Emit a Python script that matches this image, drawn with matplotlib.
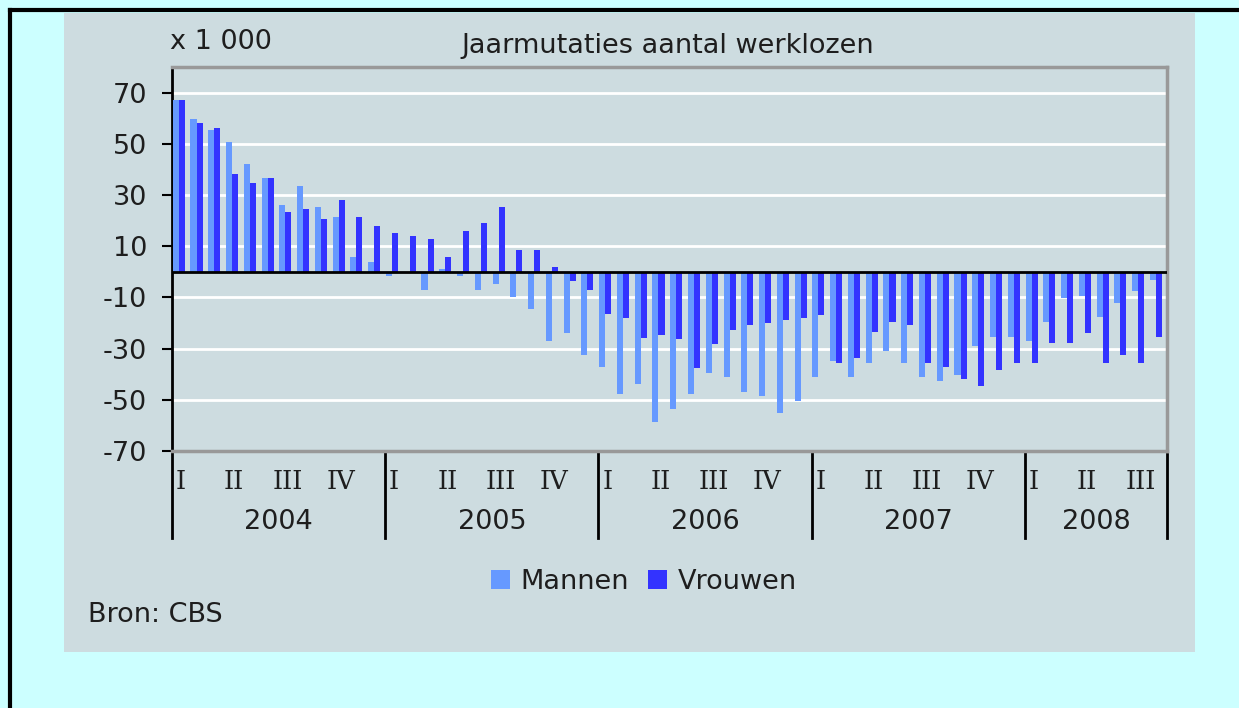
import matplotlib
matplotlib.use("Agg")
import matplotlib.pyplot as plt
from matplotlib.patches import Rectangle
from matplotlib.lines import Line2D
import numpy as np

# ---- data (x 1 000, monthly, Jan 2004 - Aug 2008) ----
mannen = [67, 59.7, 55.2, 50.6, 42.2, 36.6, 26.2, 33.7, 25.3, 21.6, 5.8, 3.8,
          -1.7, -0.5, -7.2, 1.0, -1.7, -7.2, -4.6, -10.0, -14.6, -26.9, -24.1, -32.5,
          -37.3, -47.6, -44.0, -58.8, -53.4, -47.9, -39.5, -41.2, -47.0, -48.6, -55.1, -50.6,
          -40.9, -34.7, -40.9, -35.5, -30.8, -35.5, -40.9, -42.8, -40.3, -28.9, -25.4, -25.4,
          -27.1, -19.6, -10.3, -9.3, -17.7, -12.1, -7.6, -3.1]
vrouwen = [67, 58.0, 56.1, 38.3, 34.6, 36.6, 23.3, 24.4, 20.7, 28.2, 21.6, 17.9,
           15.0, 14.0, 13.0, 5.6, 16.0, 18.9, 25.4, 8.5, 8.5, 2.0, -3.5, -7.2,
           -16.3, -18.2, -25.7, -24.6, -26.3, -37.5, -28.3, -22.7, -20.9, -19.9, -19.0, -18.2,
           -17.0, -35.5, -33.5, -23.5, -19.6, -20.6, -35.5, -37.3, -41.9, -44.5, -38.3, -35.5,
           -35.5, -28.0, -28.0, -24.1, -35.5, -32.5, -35.5, -25.4]
years = ["2004", "2005", "2006", "2007", "2008"]
months_per_year = [12, 12, 12, 12, 8]
quarters = ["I", "II", "III", "IV"]
yticks = [70, 50, 30, 10, -10, -30, -50, -70]
series_names = ["Mannen", "Vrouwen"]
colors = ["#6699ff", "#3333ff"]

FS = 19.5
TXT = "#1e1e1e"
panel = "#cddce0"

fig = plt.figure(figsize=(12.39, 7.08), dpi=100, facecolor="#ccffff")
W, H = 1239, 708

def fx(px):
    return px / W

def fy(py):
    return 1 - py / H

# panel
fig.patches.append(Rectangle((fx(64), fy(652)), fx(1195) - fx(64), fy(13) - fy(652),
                             transform=fig.transFigure, facecolor=panel, edgecolor="none", zorder=-5))
# outer black border (top + left)
fig.lines.append(Line2D([fx(10), 1], [fy(10), fy(10)], transform=fig.transFigure, color="black", lw=3))
fig.lines.append(Line2D([fx(10), fx(10)], [fy(10), 0], transform=fig.transFigure, color="black", lw=3))

ax = fig.add_axes([fx(172), fy(451), fx(1167) - fx(172), fy(67) - fy(451)])
ax.set_facecolor(panel)

n = len(mannen)
x = np.arange(n)
bw = 0.34
ax.bar(x + 0.04, mannen, width=bw, align="edge", color=colors[0], label=series_names[0], zorder=3)
ax.bar(x + 0.04 + bw, vrouwen, width=bw, align="edge", color=colors[1], label=series_names[1], zorder=3)

ax.set_xlim(0, n)
ax.set_ylim(-70, 80)
ax.set_yticks(yticks)
ax.set_yticklabels([str(v) for v in yticks], fontsize=FS, color=TXT)
ax.tick_params(axis="y", direction="out", length=7, width=1.5, color="black", pad=11)
ax.set_xticks([])
for v in yticks:
    ax.axhline(v, color="white", lw=2, zorder=1)
ax.axhline(0, color="black", lw=2, zorder=4)

for s in ["top", "right", "bottom"]:
    ax.spines[s].set_color("#999999")
    ax.spines[s].set_linewidth(2.5)
ax.spines["left"].set_color("black")
ax.spines["left"].set_linewidth(2)

# year separators and labels
trans = ax.get_xaxis_transform()
hax = 451 - 67
sep_bottom = -(538 - 451) / hax
start = 0
bounds = [0]
for y, m in zip(years, months_per_year):
    end = start + m
    bounds.append(end)
    ax.text((start + end) / 2, -(522 - 451) / hax, y, transform=trans,
            ha="center", va="center", fontsize=FS, color=TXT)
    for qi in range((m + 2) // 3):
        ax.text(start + qi * 3 + 0.5, -(481 - 451) / hax, quarters[qi],
                transform=trans, ha="center", va="center", fontsize=FS - 1,
                family="DejaVu Serif", color=TXT)
    start = end
for b in bounds:
    ax.plot([b, b], [0, sep_bottom], transform=trans, color="black", lw=2, clip_on=False)

# texts
fig.text(fx(170), fy(42), "x 1 000", ha="left", va="center", fontsize=FS, color=TXT)
fig.text(fx(668), fy(46), "Jaarmutaties aantal werklozen", ha="center", va="center",
         fontsize=FS, color=TXT)
fig.text(fx(88), fy(615), "Bron: CBS", ha="left", va="center", fontsize=FS, color=TXT)

leg = fig.legend(loc="center", bbox_to_anchor=(fx(644), fy(582)), ncol=2, frameon=False,
                 fontsize=FS, handlelength=0.7, handleheight=0.7, handletextpad=0.4,
                 columnspacing=0.7)
for t in leg.get_texts():
    t.set_color(TXT)

fig.savefig("out.png", dpi=100, facecolor=fig.get_facecolor())
